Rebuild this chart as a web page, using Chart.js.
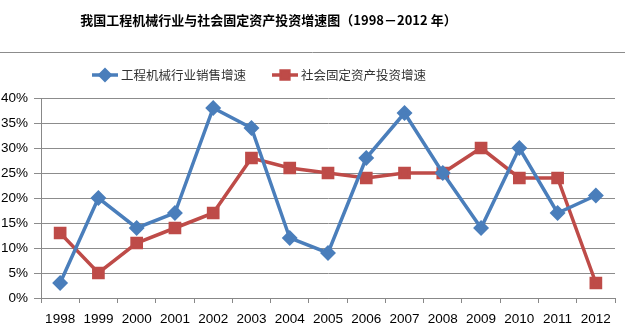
<!DOCTYPE html>
<html><head><meta charset="utf-8">
<script src="https://cdn.jsdelivr.net/npm/chart.js@4/dist/chart.umd.min.js"></script>
<style>html,body{margin:0;padding:0;background:#fff}#wrap{width:625px;height:328px}</style>
</head><body><div id="wrap"><canvas id="c" width="625" height="328"></canvas></div>
<script>
const years = ['1998','1999','2000','2001','2002','2003','2004','2005','2006','2007','2008','2009','2010','2011','2012'];
const machinerySales = [3,20,14,17,38,34,12,9,28,37,25,14,30,17,20.5];
const fixedInvestment = [13,5,11,14,17,28,26,25,24,25,25,30,24,24,3];
const seriesNames = ['工程机械行业销售增速','社会固定资产投资增速'];
const titleText = '我国工程机械行业与社会固定资产投资增速图（1998－2012 年）';

const headerPlugin = {
  id:'header',
  afterDraw(chart){
    const ctx = chart.ctx;
    ctx.save();
    // title
    ctx.fillStyle = '#000';
    ctx.font = 'bold 13px "Noto Sans CJK SC"';
    ctx.textAlign = 'center'; ctx.textBaseline = 'middle';
    ctx.fillText(titleText, 268.5, 20);
    // separator
    ctx.strokeStyle = '#8c8c8c'; ctx.lineWidth = 1;
    ctx.beginPath(); ctx.moveTo(0, 52.5); ctx.lineTo(chart.width, 52.5); ctx.stroke();
    // legend
    const items = [{x:92, ds:chart.data.datasets[0]}, {x:272, ds:chart.data.datasets[1]}];
    ctx.font = '12.5px "Noto Sans CJK SC"';
    ctx.textAlign = 'left';
    const ly = 75;
    items.forEach(it => {
      ctx.strokeStyle = it.ds.borderColor; ctx.lineWidth = 3.5;
      ctx.beginPath(); ctx.moveTo(it.x, ly); ctx.lineTo(it.x + 26, ly); ctx.stroke();
      Chart.helpers.drawPoint(ctx, {pointStyle: it.ds.pointStyle, radius: it.ds.pointStyle === 'rect' ? 5.5 : 5, rotation: 0, borderWidth: 1}, it.x + 13, ly);
      ctx.fillStyle = it.ds.backgroundColor;
      ctx.fill();
      ctx.fillStyle = '#333';
      ctx.fillText(it.ds.label, it.x + 29, ly + 0.5);
    });
    ctx.restore();
  }
};

new Chart(document.getElementById('c'), {
  type:'line',
  data:{labels:years, datasets:[
    {label:seriesNames[0], data:machinerySales, borderColor:'#4a7ebb', backgroundColor:'#4a7ebb', borderWidth:3.5, pointStyle:'rectRot', pointRadius:5.5, pointHoverRadius:5.5, tension:0},
    {label:seriesNames[1], data:fixedInvestment, borderColor:'#be4b48', backgroundColor:'#be4b48', borderWidth:3.5, pointStyle:'rect', pointRadius:6.5, pointHoverRadius:6.5, tension:0}
  ]},
  options:{
    responsive:false, animation:false, devicePixelRatio:1,
    layout:{padding:{left:0,right:2,bottom:0,top:98}},
    plugins:{
      title:{display:false},
      legend:{display:false},
      tooltip:{enabled:false}
    },
    scales:{
      x:{offset:true, afterFit(s){ s.height = 30; },
        grid:{offset:true, drawOnChartArea:false, color:'#888', tickLength:5}, border:{color:'#888'},
        ticks:{color:'#000', font:{family:'"Liberation Sans"', size:13.5}, padding:8, maxRotation:0}},
      y:{min:0, max:40, afterFit(s){ s.width = 41; },
        ticks:{stepSize:5, callback:v=>v+'%', color:'#000', font:{family:'"Liberation Sans"', size:13.5}, padding:6},
        grid:{color:'#8c8c8c', tickLength:7, drawTicks:true}, border:{color:'#888'}}
    }
  },
  plugins:[headerPlugin]
});
</script></body></html>
